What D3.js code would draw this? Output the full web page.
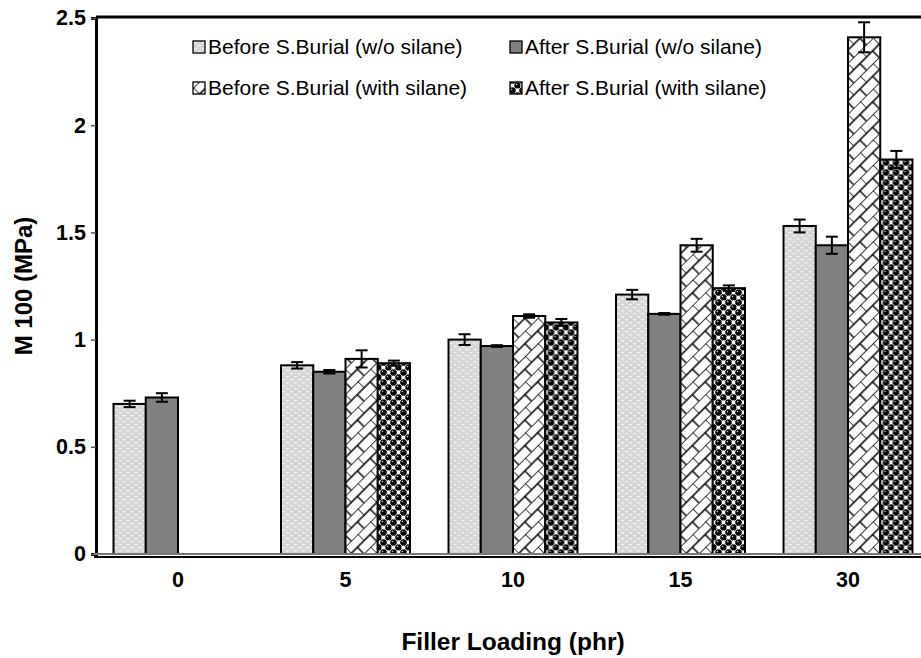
<!DOCTYPE html>
<html>
<head>
<meta charset="utf-8">
<script src="https://cdn.jsdelivr.net/npm/d3@7"></script>
<style>
  body { margin: 0; background: #fff; }
  svg { display: block; font-family: Arial, "Liberation Sans", sans-serif; }
</style>
</head>
<body>
<svg class="bar-chart"></svg>
<script>
const width = 921;
const height = 658;

// Data
const loadings = ['0', '5', '10', '15', '30'];
const seriesNames = [
    'Before S.Burial (w/o silane)',
    'After S.Burial (w/o silane)',
    'Before S.Burial (with silane)',
    'After S.Burial (with silane)'
];
const beforeNoSilane = [0.70, 0.88, 1.00, 1.21, 1.53];
const afterNoSilane = [0.73, 0.85, 0.97, 1.12, 1.44];
const beforeSilane = [0, 0.91, 1.11, 1.44, 2.41];
const afterSilane = [0, 0.89, 1.08, 1.24, 1.84];
const errBeforeNoSilane = [0.015, 0.015, 0.025, 0.022, 0.03];
const errAfterNoSilane = [0.02, 0.008, 0.004, 0.004, 0.04];
const errBeforeSilane = [0, 0.04, 0.008, 0.03, 0.07];
const errAfterSilane = [0, 0.012, 0.016, 0.013, 0.04];
const yTicks = [0, 0.5, 1, 1.5, 2, 2.5];

const values = [beforeNoSilane, afterNoSilane, beforeSilane, afterSilane];
const errors = [errBeforeNoSilane, errAfterNoSilane, errBeforeSilane, errAfterSilane];

const svg = d3.select('.bar-chart')
    .attr('width', width)
    .attr('height', height);

// Patterns
const defs = svg.append('defs');

const dots = defs.append('pattern')
    .attr('id', 'pat0')
    .attr('patternUnits', 'userSpaceOnUse')
    .attr('width', 8).attr('height', 6);
dots.append('rect').attr('width', 8).attr('height', 6).attr('fill', '#d6d6d6');
dots.append('rect').attr('x', 1).attr('y', 1).attr('width', 3).attr('height', 1.3).attr('fill', '#f4f4f4');
dots.append('rect').attr('x', 5).attr('y', 4).attr('width', 3).attr('height', 1.3).attr('fill', '#f4f4f4');

const brick = defs.append('pattern')
    .attr('id', 'pat2')
    .attr('patternUnits', 'userSpaceOnUse')
    .attr('width', 18).attr('height', 18)
    .attr('patternTransform', 'rotate(-45)');
brick.append('rect').attr('width', 18).attr('height', 18).attr('fill', '#fff');
brick.append('path')
    .attr('d', 'M0,0H18M0,9H18M0,0V9M9,9V18')
    .attr('stroke', '#000')
    .attr('stroke-width', 1.4)
    .attr('fill', 'none');

const sphere = defs.append('pattern')
    .attr('id', 'pat3')
    .attr('patternUnits', 'userSpaceOnUse')
    .attr('width', 10).attr('height', 10);
sphere.append('rect').attr('width', 10).attr('height', 10).attr('fill', '#fff');
[[7.5, 2.5], [2.5, 7.5]].forEach(c => {
    sphere.append('circle').attr('cx', c[0]).attr('cy', c[1]).attr('r', 2.3)
        .attr('fill', 'none').attr('stroke', '#666').attr('stroke-width', 0.8);
});
[[2.5, 2.5], [7.5, 7.5], [12.5, 2.5], [2.5, 12.5]].forEach(c => {
    sphere.append('circle').attr('cx', c[0]).attr('cy', c[1]).attr('r', 3.1).attr('fill', '#000');
    sphere.append('circle').attr('cx', c[0] - 1).attr('cy', c[1] - 1).attr('r', 0.8).attr('fill', '#ccc');
});

const fills = ['url(#pat0)', '#808080', 'url(#pat2)', 'url(#pat3)'];

// Scales
const plotLeft = 96;
const plotTop = 18;
const plotBottom = 554;

const xScale = d3.scaleBand()
    .domain(loadings)
    .range([94.25, 94.25 + 167.5 * loadings.length])
    .paddingInner(0.23)
    .paddingOuter(0.115);

const xSub = d3.scaleBand()
    .domain(d3.range(seriesNames.length))
    .range([0, xScale.bandwidth()]);

const yScale = d3.scaleLinear()
    .domain([0, 2.5])
    .range([plotBottom, plotTop]);

// Bars
const groups = svg.selectAll('g.group')
    .data(loadings)
    .enter().append('g')
    .attr('class', 'group')
    .attr('transform', d => `translate(${xScale(d)},0)`);

const barData = (d, i) => values.map((s, k) => ({ k: k, v: s[i], e: errors[k][i] })).filter(b => b.v > 0);

groups.selectAll('rect')
    .data(barData)
    .enter().append('rect')
    .attr('x', d => xSub(d.k))
    .attr('y', d => yScale(d.v))
    .attr('width', xSub.bandwidth())
    .attr('height', d => yScale(0) - yScale(d.v))
    .attr('fill', d => fills[d.k])
    .attr('stroke', '#000')
    .attr('stroke-width', 2);

// Error bars
const err = groups.selectAll('g.err')
    .data(barData)
    .enter().append('g')
    .attr('class', 'err')
    .attr('stroke', '#000')
    .attr('stroke-width', 2);

const cx = d => xSub(d.k) + xSub.bandwidth() / 2;
err.append('line')
    .attr('x1', cx).attr('x2', cx)
    .attr('y1', d => yScale(d.v - d.e))
    .attr('y2', d => yScale(d.v + d.e));
err.append('line')
    .attr('x1', d => cx(d) - 6).attr('x2', d => cx(d) + 6)
    .attr('y1', d => yScale(d.v + d.e))
    .attr('y2', d => yScale(d.v + d.e));
err.append('line')
    .attr('x1', d => cx(d) - 6).attr('x2', d => cx(d) + 6)
    .attr('y1', d => yScale(d.v - d.e))
    .attr('y2', d => yScale(d.v - d.e));

// Plot frame (top border)
svg.append('line')
    .attr('x1', plotLeft).attr('x2', width)
    .attr('y1', plotTop - 1).attr('y2', plotTop - 1)
    .attr('stroke', '#000').attr('stroke-width', 3.2);

// Axes
const yAxis = d3.axisLeft(yScale).tickValues(yTicks).tickSize(5).tickFormat(d => d);
svg.append('g')
    .attr('transform', `translate(${plotLeft},0)`)
    .call(yAxis)
    .call(g => g.select('.domain').attr('stroke', '#000').attr('stroke-width', 3))
    .call(g => g.selectAll('.tick line').attr('stroke', '#555').attr('stroke-width', 1.5))
    .call(g => g.selectAll('.tick text')
        .attr('x', -10)
        .attr('font-size', 21.5)
        .attr('font-weight', 'bold')
        .attr('font-family', 'Arial, "Liberation Sans", sans-serif')
        .attr('fill', '#000'));

const xAxis = d3.axisBottom(xScale).tickSize(0).tickPadding(18);
svg.append('g')
    .attr('transform', `translate(0,${plotBottom})`)
    .call(xAxis)
    .call(g => g.select('.domain').remove())
    .call(g => g.selectAll('.tick text')
        .attr('font-size', 21.5)
        .attr('font-weight', 'bold')
        .attr('font-family', 'Arial, "Liberation Sans", sans-serif')
        .attr('fill', '#000'));

svg.append('line')
    .attr('x1', plotLeft - 2).attr('x2', width)
    .attr('y1', plotBottom).attr('y2', plotBottom)
    .attr('stroke', '#777').attr('stroke-width', 1.8);
svg.append('line')
    .attr('x1', plotLeft - 2).attr('x2', width)
    .attr('y1', plotBottom + 3).attr('y2', plotBottom + 3)
    .attr('stroke', '#000').attr('stroke-width', 2.2);

// Axis titles
svg.append('text')
    .attr('transform', `translate(32,${(plotTop + plotBottom) / 2}) rotate(-90)`)
    .attr('text-anchor', 'middle')
    .attr('font-size', 24)
    .attr('font-weight', 'bold')
    .text('M 100 (MPa)');

svg.append('text')
    .attr('x', 513)
    .attr('y', 650)
    .attr('text-anchor', 'middle')
    .attr('font-size', 24.5)
    .attr('font-weight', 'bold')
    .text('Filler Loading (phr)');

// Legend
const legendX = [193, 510];
const legendY = [47, 88];
const legend = svg.selectAll('g.legend')
    .data(seriesNames)
    .enter().append('g')
    .attr('class', 'legend')
    .attr('transform', (d, i) => `translate(${legendX[i % 2]},${legendY[Math.floor(i / 2)]})`);

legend.append('rect')
    .attr('x', 0).attr('y', -6)
    .attr('width', 12).attr('height', 12)
    .attr('fill', (d, i) => fills[i])
    .attr('stroke', '#000')
    .attr('stroke-width', 1.3);

legend.append('text')
    .attr('x', 15)
    .attr('dy', '0.35em')
    .attr('font-size', 21)
    .text(d => d);
</script>
</body>
</html>
